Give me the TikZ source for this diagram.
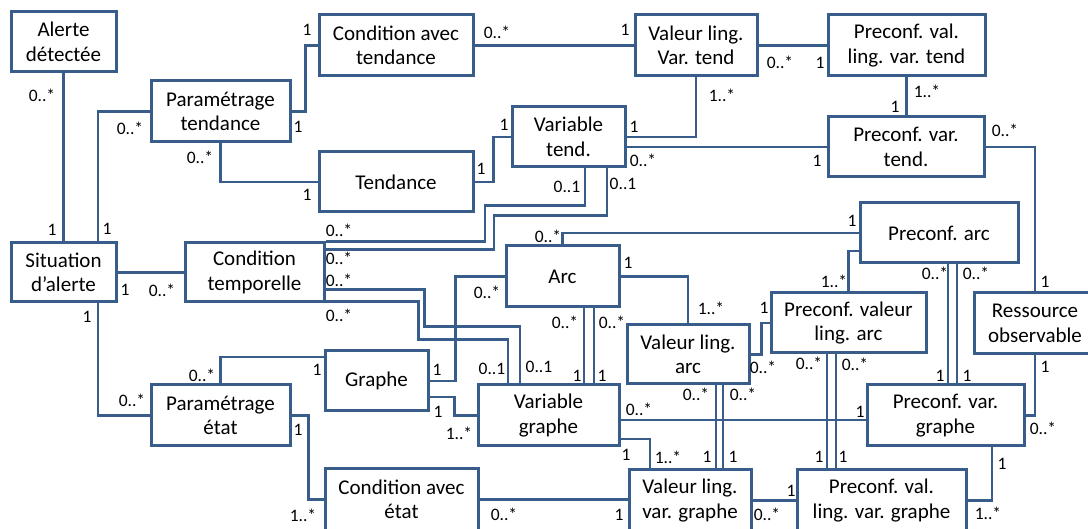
\documentclass[tikz,border=0pt]{standalone}
\usepackage{fontspec}
\setmainfont{Carlito}
\usetikzlibrary{backgrounds}
\definecolor{bc}{RGB}{56,93,138}
\newcommand\mzs{0..*}
\newcommand\mone{1}
\newcommand\mos{1..*}
\newcommand\mzo{0..1}
\begin{document}
\begin{tikzpicture}[x=1pt,y=-1pt,
  box/.style={draw=bc, line width=3pt, fill=white, align=center, inner sep=0pt,
    font=\fontsize{21}{24.5}\selectfont},
  conn/.style={draw=bc, line width=2.3pt},
  lbl/.style={inner sep=0pt, font=\fontsize{17.5}{19}\selectfont}]
\useasboundingbox (0,0) rectangle (1088,529);
\clip (0,0) rectangle (1088,529);
% boxes
\node[box, minimum width=105pt, minimum height=60pt] (alerte) at (63.5,42) {Alerte\\détectée};
\node[box, minimum width=139pt, minimum height=61pt] (ptend) at (220.5,111.5) {Paramétrage\\tendance};
\node[box, minimum width=154pt, minimum height=61pt] (cavt) at (396,45.5) {Condition avec\\tendance};
\node[box, minimum width=122pt, minimum height=61pt] (vlvt) at (696,45.5) {Valeur ling.\\Var. tend};
\node[box, minimum width=157pt, minimum height=61pt] (pvlvt) at (906.5,45.5) {Preconf. val.\\ling. var. tend};
\node[box, minimum width=113pt, minimum height=60pt] (vtend) at (568.5,137) {Variable\\tend.};
\node[box, minimum width=154pt, minimum height=60pt] (tend) at (396,182) {Tendance};
\node[box, minimum width=156pt, minimum height=60pt] (pvt) at (906,147) {Preconf. var.\\tend.};
\node[box, minimum width=158pt, minimum height=60pt] (parc) at (939,233) {Preconf. arc};
\node[box, minimum width=105pt, minimum height=59pt] (sit) at (63.5,272.5) {Situation\\d’alerte};
\node[box, minimum width=139pt, minimum height=59pt] (ctemp) at (254.5,272.5) {Condition\\temporelle};
\node[box, minimum width=113pt, minimum height=61pt] (arc) at (562.5,276.5) {Arc};
\node[box, minimum width=103pt, minimum height=60pt] (graphe) at (376.5,381) {Graphe};
\node[box, minimum width=141pt, minimum height=61pt] (vgraphe) at (548.5,415.5) {Variable\\graphe};
\node[box, minimum width=139pt, minimum height=61pt] (petat) at (220.5,415.5) {Paramétrage\\état};
\node[box, minimum width=153pt, minimum height=61pt] (cetat) at (401.5,499.5) {Condition avec\\état};
\node[box, minimum width=122pt, minimum height=59pt] (vlarc) at (688,354.5) {Valeur ling.\\arc};
\node[box, minimum width=155pt, minimum height=60pt] (pvlarc) at (848.5,323) {Preconf. valeur\\ling. arc};
\node[box, minimum width=122pt, minimum height=61pt] (ress) at (1035,323.5) {Ressource\\observable};
\node[box, minimum width=157pt, minimum height=61pt] (pvgraphe) at (945.5,415.5) {Preconf. var.\\graphe};
\node[box, minimum width=122pt, minimum height=61pt] (vlvg) at (690,500.5) {Valeur ling.\\var. graphe};
\node[box, minimum width=169pt, minimum height=61pt] (pvlvg) at (881.5,500.5) {Preconf. val.\\ling. var. graphe};
% connectors
\begin{scope}[on background layer]
\draw[conn] (alerte.south) -- (sit.north);
\draw[conn] ([xshift=34.5pt]sit.north) |- (ptend.west);
\draw[conn] (ptend.east) -- ++(14,0) |- (cavt.west);
\draw[conn] (ptend.south) |- (tend.west);
\draw[conn] (cavt.east) -- (vlvt.west);
\draw[conn] (vlvt.east) -- (pvlvt.west);
\draw[conn] (vlvt.south) |- (vtend.east);
\draw[conn] (tend.east) -- ++(19,0) |- (vtend.west);
\draw[conn] (pvlvt.south) -- (pvlvt.south |- pvt.north);
\draw[conn] ([yshift=-10pt]vtend.east) -- (pvt.west);
\draw[conn] (pvt.east) -| (ress.north);
\draw[conn] ([xshift=16.5pt]vtend.south) -- ++(0,37) -- ++(-100,0) |- (ctemp.north east);
\draw[conn] ([xshift=38.5pt]vtend.south) -- ++(0,47) -- ++(-113,0) |- ([yshift=-8pt]ctemp.north east);
\draw[conn] ([yshift=-48pt]ctemp.north east) -- ++(99,0) -- ++(0,37) -| ([xshift=-28.5pt]vgraphe.north);
\draw[conn] ([yshift=2pt]ctemp.south east) -- ++(93,0) -- ++(0,38) -| ([xshift=-40.5pt]vgraphe.north);
\draw[conn] (arc.north) |- (parc.west);
\draw[conn] (graphe.east) -- ++(26,0) |- (arc.west);
\draw[conn] ([yshift=-16pt]graphe.east) -- ++(25,0) |- (vgraphe.west);
\foreach \s in {21.5,31.5} \draw[conn] ([xshift=\s pt]arc.south) -- ([xshift=\s pt]arc.south |- vgraphe.north);
\draw[conn] (arc.east) -| (vlarc.north);
\draw[conn] ([yshift=-18pt]parc.west) -| (pvlarc.north);
\draw[conn] (vlarc.east) -- ++(11,0) |- (pvlarc.west);
\foreach \s in {9,18} \draw[conn] ([xshift=\s pt]parc.south) -- ([xshift=\s pt]parc.south |- pvgraphe.north);
\draw[conn] (ress.south) |- (pvgraphe.east);
\draw[conn] ([yshift=-4.5pt]vgraphe.east) -- ([yshift=-4.5pt]pvgraphe.west);
\foreach \s in {28,35} \draw[conn] ([xshift=\s pt]vlarc.south) -- ([xshift=\s pt]vlarc.south |- vlvg.north);
\foreach \s in {-21.5,-12.5} \draw[conn] ([xshift=\s pt]pvlarc.south) -- ([xshift=\s pt]pvlarc.south |- pvlvg.north);
\draw[conn] ([yshift=-23.5pt]vgraphe.east) -| ([xshift=-40pt]vlvg.north);
\draw[conn] (cetat.east) -- (cetat.east -| vlvg.west);
\draw[conn] (vlvg.east) -- (pvlvg.west);
\draw[conn] (pvlvg.east) -| ([xshift=46.5pt]pvgraphe.south);
\draw[conn] ([xshift=34.5pt]sit.south) |- (petat.west);
\draw[conn] (petat.north) |- ([yshift=24pt]graphe.west);
\draw[conn] (petat.east) -- ++(17,0) |- (cetat.west);
\draw[conn] (sit.east) -- (ctemp.west);
\end{scope}
% multiplicity labels
\foreach \x/\y/\t [count=\i] in {
 42/95/\mzs, 52/230/\mone, 107/229/\mone, 130/128/\mzs, 298/127/\mone, 307/30/\mone,
 200/157/\mzs, 307/195/\mone, 497/32/\mzs, 625/30/\mone, 780/62/\mzs, 820/63/\mone,
 722/95/\mos, 634/127/\mone, 481/169/\mone, 504/125/\mone, 927/91/\mos, 895/107/\mone,
 643/160/\mzs, 817/161/\mone, 1005/130/\mzs, 1045/282/\mone, 567/187/\mzo, 623/184/\mzo,
 339/230/\mzs, 339/258/\mzs, 339/280/\mzs, 339/315/\mzs, 125/290/\mone, 162/290/\mzs,
 548/236/\mzs, 852/221/\mone, 628/263/\mone, 487/292/\mzs, 565/322/\mzs, 612/322/\mzs,
 577/376/\mone, 602/376/\mone, 492/369/\mzo, 539/367/\mzo, 437/370/\mone, 438/412/\mone,
 459/433/\mos, 317/370/\mone, 202/375/\mzs, 87/317/\mone, 132/400/\mzs, 298/430/\mone,
 303/515/\mos, 504/514/\mzs, 619/515/\mone, 834/281/\mos, 935/273/\mzs, 976/273/\mzs,
 711/308/\mos, 764/308/\mone, 763/367/\mzs, 809/363/\mzs, 855/364/\mzs, 940/376/\mone,
 967/376/\mone, 1045/367/\mone, 696/394/\mzs, 743/394/\mzs, 639/409/\mzs, 860/412/\mone,
 1043/428/\mzs, 626/455/\mone, 668/457/\mos, 707/457/\mone, 733/457/\mone, 819/457/\mone,
 843/457/\mone, 1002/464/\mone, 791/491/\mone, 767/514/\mzs, 988/513/\mos}
 \node[lbl] (lab\i) at (\x,\y) {\t};
\end{tikzpicture}
\end{document}
